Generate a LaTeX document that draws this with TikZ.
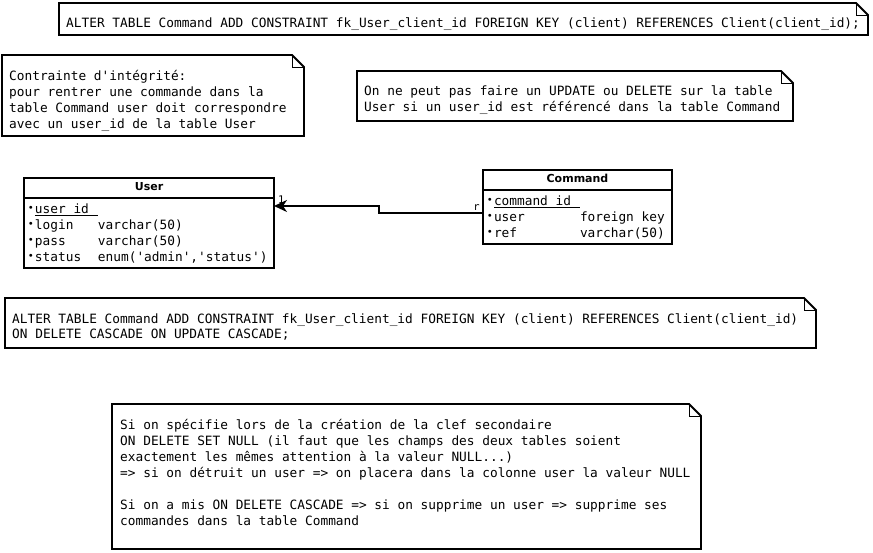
\documentclass[tikz,border=0pt]{standalone}
\usepackage{fontspec}
\setmonofont{DejaVu Sans Mono}
\setsansfont{DejaVu Sans}
\usetikzlibrary{arrows.meta,positioning,shapes.multipart}
\newcommand{\attrdot}{\rule[-2.8pt]{0pt}{16pt}\makebox[8pt]{\raisebox{2.5pt}{\fontsize{10}{10}\selectfont\textbullet}}}
\newcommand{\pkey}[2]{\underline{\smash{\makebox[#1][l]{#2}}}}
\newcommand{\entityhead}[1]{{\sffamily\bfseries\fontsize{11}{13}\selectfont\rule[-4pt]{0pt}{14pt}#1}}

\begin{document}
\begin{tikzpicture}[x=1pt,y=-1pt,
        note/.style 2 args={anchor=north west,inner sep=0pt,outer sep=0pt,
                minimum width=#1,minimum height=#2},
        notetext/.style={anchor=north west,inner sep=0pt,align=left,xshift=7pt,yshift=-15pt,
                font=\ttfamily\fontsize{12.8}{16}\selectfont,execute at begin node=\strut},
        noteline/.style={line width=1.8pt},
        foldline/.style={line width=1pt},
        entity/.style={rectangle split,rectangle split parts=2,draw,line width=1.8pt,
                anchor=north west,inner xsep=3pt,inner ysep=2pt,outer sep=0pt,
                rectangle split part align={center,left},minimum width=#1,
                font=\ttfamily\fontsize{12.8}{16}\selectfont\renewcommand{\arraystretch}{0}},
        link/.style={line width=2pt,-{Stealth[length=13pt,width=12pt,inset=4pt]}},
        endlabel/.style={inner sep=0pt,font=\ttfamily\fontsize{10.5}{11}\selectfont}]
    \path[use as bounding box,fill=white] (0,0) rectangle (873,552);
    % notes
    \node[note={809}{32},label={[notetext,yshift=2pt]north west:{ALTER TABLE Command ADD CONSTRAINT fk\_User\_client\_id FOREIGN KEY (client) REFERENCES Client(client\_id);}}] (sqlTop) at (59,3) {};
    \node[note={302}{81},label={[notetext]north west:{Contrainte d'intégrité:\\
                    pour rentrer une commande dans la\\
                    table Command user doit correspondre\\
                    avec un user\_id de la table User}}] (ruleNote) at (2,55) {};
    \node[note={436}{50},label={[notetext]north west:{On ne peut pas faire un UPDATE ou DELETE sur la table\\
                    User si un user\_id est référencé dans la table Command}}] (updNote) at (357,71) {};
    \node[note={811}{50},label={[notetext]north west:{ALTER TABLE Command ADD CONSTRAINT fk\_User\_client\_id FOREIGN KEY (client) REFERENCES Client(client\_id)\\
                    ON DELETE CASCADE ON UPDATE CASCADE;}}] (sqlCascade) at (5,298) {};
    \node[note={589}{145},label={[notetext,xshift=1pt]north west:{Si on spécifie lors de la création de la clef secondaire\\
                    ON DELETE SET NULL (il faut que les champs des deux tables soient\\
                    exactement les mêmes attention à la valeur NULL...)\\
                    => si on détruit un user => on placera dans la colonne user la valeur NULL\\[16pt]
                    Si on a mis ON DELETE CASCADE => si on supprime un user => supprime ses\\
                    commandes dans la table Command}}] (cascadeNote) at (112,404) {};
    \foreach \n in {sqlTop,ruleNote,updNote,sqlCascade,cascadeNote}{
        \draw[noteline] (\n.north west) -- ([xshift=-12pt]\n.north east)
        -- ([yshift=-12pt]\n.north east) |- (\n.south west) -- cycle;
        \draw[foldline] ([xshift=-12pt]\n.north east) |- ([yshift=-12pt]\n.north east);
    }
    % tables
    \node[entity=250] (user) at (24,178) {\entityhead{User}\nodepart{two}%
        \begin{tabular}{@{}l@{}p{63pt}@{}l@{}}
            \attrdot & \pkey{63pt}{user\_id} &                         \\
            \attrdot & login                 & varchar(50)             \\
            \attrdot & pass                  & varchar(50)             \\
            \attrdot & status                & enum('admin','status')
        \end{tabular}};
    \node[entity=189] (cmd) at (483,170) {\entityhead{Command}\nodepart{two}%
        \begin{tabular}{@{}l@{}p{86pt}@{}l@{}}
            \attrdot & \pkey{86pt}{command\_id} &             \\
            \attrdot & user                     & foreign key \\
            \attrdot & ref                      & varchar(50)
        \end{tabular}};
    \coordinate (cmdport) at ([yshift=-43pt]cmd.north west);
    \coordinate (userport) at ([yshift=-28pt]user.north east);
    \draw[link] (cmdport) -- ++(-104,0) |- (userport);
    \node[endlabel,anchor=base west] (oneEnd) at ([shift={(4,-3)}]userport) {1};
    \node[endlabel,anchor=base east] (rEnd) at ([shift={(-3,-3)}]cmdport) {r};
\end{tikzpicture}
\end{document}
